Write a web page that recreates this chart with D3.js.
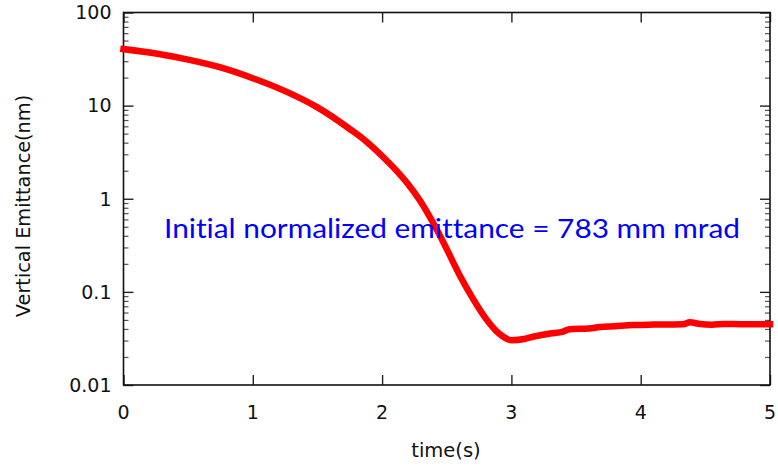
<!DOCTYPE html>
<html>
<head>
<meta charset="utf-8">
<script src="https://cdn.jsdelivr.net/npm/d3@7"></script>
<style>
  html, body { margin: 0; padding: 0; background: #fff; }
  svg { display: block; }
  text { font-variant-ligatures: none; font-kerning: normal; }
</style>
</head>
<body>
<svg id="chart" width="778" height="466"></svg>
<script>
// Vertical emittance during damping (time in seconds, emittance in nm)
const timeS = [0, 0.25, 0.5, 0.75, 1.0, 1.25, 1.5, 1.75, 1.875, 2.0, 2.1, 2.2, 2.3, 2.4, 2.5, 2.6, 2.7, 2.8, 2.9, 3.0, 3.1, 3.167, 3.3, 3.4, 3.45, 3.6, 3.685, 3.8, 3.94, 4.1, 4.2, 4.33, 4.38, 4.46, 4.55, 4.65, 4.8, 5.0];
const emittanceNm = [40.5, 36.3, 31.2, 25.7, 19.7, 14.3, 9.57, 5.61, 4.15, 2.88, 2.08, 1.44, 0.925, 0.535, 0.288, 0.151, 0.0857, 0.0523, 0.0361, 0.0303, 0.0312, 0.0330, 0.0357, 0.0375, 0.0398, 0.0405, 0.0419, 0.0428, 0.0440, 0.0445, 0.0447, 0.0449, 0.0472, 0.0451, 0.0443, 0.0453, 0.0449, 0.0449];

const xTicks = [0, 1, 2, 3, 4, 5];
const yTicks = [0.01, 0.1, 1, 10, 100];
const yTickLabels = ["0.01", "0.1", "1", "10", "100"];
const xTitle = "time(s)";
const yTitle = "Vertical Emittance(nm)";
const note = "Initial normalized emittance = 783 mm mrad";

const svg = d3.select("#chart");
const plotL = 123.5, plotR = 770, plotT = 12.5, plotB = 385;

const x = d3.scaleLinear().domain([0, 5]).range([plotL, plotR]);
const y = d3.scaleLog().domain([0.01, 100]).range([plotB, plotT]);

// minor ticks for every decade (2..9 × 10^k)
const minorY = [];
for (let e = -2; e < 2; e++) {
  for (let m = 2; m <= 9; m++) minorY.push(m * Math.pow(10, e));
}

const axes = svg.append("g");

// left axis and mirrored right axis, ticks pointing inward
const leftAxis = d3.axisRight(y).tickValues(yTicks).tickSize(10).tickFormat("");
const rightAxis = d3.axisLeft(y).tickValues(yTicks).tickSize(10).tickFormat("");
const leftMinor = d3.axisRight(y).tickValues(minorY).tickSize(5).tickFormat("");
const rightMinor = d3.axisLeft(y).tickValues(minorY).tickSize(5).tickFormat("");
const bottomAxis = d3.axisTop(x).tickValues(xTicks).tickSize(10).tickFormat("");
const topAxis = d3.axisBottom(x).tickValues(xTicks).tickSize(10).tickFormat("");

function styleAxis(g, w, col) {
  g.select(".domain").remove();
  g.selectAll(".tick line").attr("stroke", col).attr("stroke-width", w);
}
axes.append("g").attr("transform", `translate(${plotL},0)`).call(leftMinor).call(g => styleAxis(g, 1.2, "#555"));
axes.append("g").attr("transform", `translate(${plotR},0)`).call(rightMinor).call(g => styleAxis(g, 1.2, "#555"));
axes.append("g").attr("transform", `translate(${plotL},0)`).call(leftAxis).call(g => styleAxis(g, 1.4, "#222"));
axes.append("g").attr("transform", `translate(${plotR},0)`).call(rightAxis).call(g => styleAxis(g, 1.4, "#222"));
axes.append("g").attr("transform", `translate(0,${plotB})`).call(bottomAxis).call(g => styleAxis(g, 1.4, "#222"));
axes.append("g").attr("transform", `translate(0,${plotT})`).call(topAxis).call(g => styleAxis(g, 1.4, "#222"));

// frame
axes.append("rect")
  .attr("x", plotL).attr("y", plotT)
  .attr("width", plotR - plotL).attr("height", plotB - plotT)
  .attr("fill", "none").attr("stroke", "#111").attr("stroke-width", 1.6);

// tick labels
const labelFont = "'DejaVu Sans', Verdana, sans-serif";
svg.append("g").selectAll("text").data(yTicks).join("text")
  .attr("x", plotL - 12)
  .attr("y", d => y(d))
  .attr("dy", "0.36em")
  .attr("text-anchor", "end")
  .attr("font-family", labelFont)
  .attr("font-size", 19)
  .attr("fill", "#111")
  .text((d, i) => yTickLabels[i]);

svg.append("g").selectAll("text").data(xTicks).join("text")
  .attr("x", d => x(d))
  .attr("y", 419)
  .attr("text-anchor", "middle")
  .attr("font-family", labelFont)
  .attr("font-size", 19)
  .attr("fill", "#111")
  .text(d => d);

// axis titles
svg.append("text")
  .attr("x", 446).attr("y", 457)
  .attr("text-anchor", "middle")
  .attr("font-family", labelFont)
  .attr("font-size", 19.5)
  .attr("fill", "#111")
  .text(xTitle);

svg.append("text")
  .attr("transform", "translate(30,206) rotate(-90)")
  .attr("text-anchor", "middle")
  .attr("font-family", labelFont)
  .attr("font-size", 19.3)
  .attr("fill", "#111")
  .text(yTitle);

// emittance curve
const pts = timeS.map((t, i) => [t, emittanceNm[i]]);
const line = d3.line()
  .x(d => x(d[0]))
  .y(d => y(d[1]))
  .curve(d3.curveMonotoneX);

svg.append("path")
  .datum(pts)
  .attr("d", line)
  .attr("fill", "none")
  .attr("stroke", "#ff0000")
  .attr("stroke-width", 6.5)
  .attr("stroke-linecap", "square")
  .attr("stroke-linejoin", "round");

// annotation drawn over the curve
svg.append("text")
  .attr("x", 164).attr("y", 238)
  .attr("font-family", "Lato, 'Open Sans', sans-serif")
  .attr("font-size", 27.5)
  .attr("textLength", 576)
  .attr("lengthAdjust", "spacingAndGlyphs")
  .attr("fill", "#0000ff")
  .text(note);
</script>
</body>
</html>
